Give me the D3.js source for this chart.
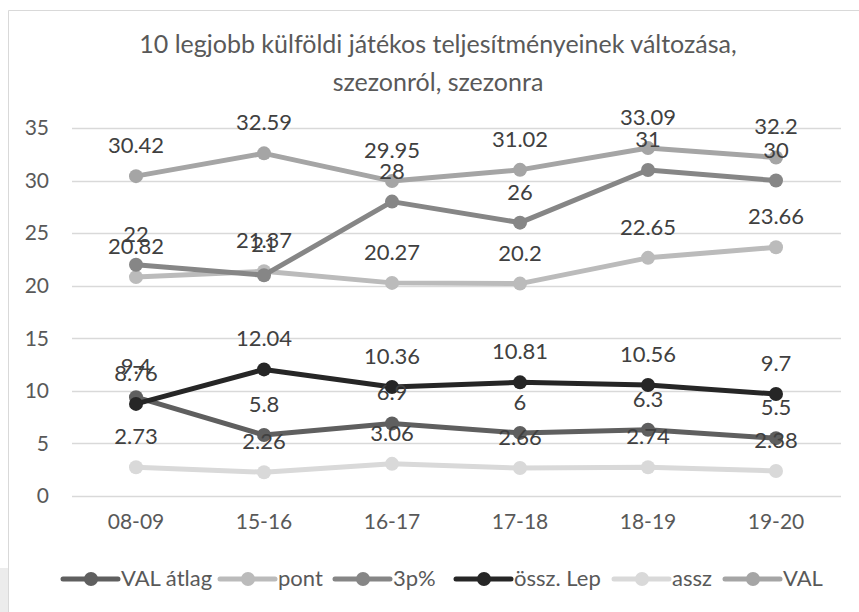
<!DOCTYPE html>
<html>
<head>
<meta charset="utf-8">
<script src="https://cdn.jsdelivr.net/npm/d3@7"></script>
<style>
  body { margin: 0; background: #fff; }
  svg text { font-family: Lato, "Open Sans", sans-serif; }
</style>
</head>
<body>
<svg id="chart" width="859" height="612"></svg>
<script>
// data
var seasons = ["08-09", "15-16", "16-17", "17-18", "18-19", "19-20"];
var seriesNames = ["VAL átlag", "pont", "3p%", "össz. Lep", "assz", "VAL"];
var valAtlag = [9.4, 5.8, 6.9, 6, 6.3, 5.5];
var pont = [20.82, 21.37, 20.27, 20.2, 22.65, 23.66];
var harom = [22, 21, 28, 26, 31, 30];
var osszLep = [8.76, 12.04, 10.36, 10.81, 10.56, 9.7];
var assz = [2.73, 2.26, 3.06, 2.66, 2.74, 2.38];
var val = [30.42, 32.59, 29.95, 31.02, 33.09, 32.2];
var yTicks = [0, 5, 10, 15, 20, 25, 30, 35];
var titleLines = ["10 legjobb külföldi játékos teljesítményeinek változása,", "szezonról, szezonra"];

var colors = ["#5f5f5f", "#bbbbbb", "#868686", "#262626", "#d9d9d9", "#a5a5a5"];
var allValues = [valAtlag, pont, harom, osszLep, assz, val];

var series = seriesNames.map(function(n, i) {
  return { name: n, color: colors[i], values: allValues[i] };
});

var svg = d3.select("#chart");

// frame (chart area is cropped at right/bottom)
svg.append("rect")
  .attr("x", 0).attr("y", 568).attr("width", 8).attr("height", 44)
  .attr("fill", "#ececec");
svg.append("path")
  .attr("d", "M8.5,612 V10.5 H859")
  .attr("fill", "none")
  .attr("stroke", "#d9d9d9")
  .attr("stroke-width", 1);

var xScale = d3.scaleBand().domain(seasons).range([72, 840]);
var yScale = d3.scaleLinear().domain([0, 35]).range([496, 128]);

// gridlines
svg.append("g").selectAll("line")
  .data(yTicks)
  .enter().append("line")
  .attr("x1", 72).attr("x2", 841)
  .attr("y1", function(d) { return Math.round(yScale(d)) + 0.5; })
  .attr("y2", function(d) { return Math.round(yScale(d)) + 0.5; })
  .attr("stroke", "#d9d9d9")
  .attr("stroke-width", 1.3);

var axisY = d3.axisLeft(yScale).tickValues(yTicks).tickSize(0).tickPadding(0);
svg.append("g")
  .attr("transform", "translate(49,0)")
  .call(axisY)
  .call(function(g) { g.select(".domain").remove(); })
  .selectAll("text")
  .attr("font-size", 21)
  .attr("font-family", "Lato")
  .attr("fill", "#595959");

var axisX = d3.axisBottom(xScale).tickSize(0).tickPadding(0);
svg.append("g")
  .attr("transform", "translate(0,514)")
  .call(axisX)
  .call(function(g) { g.select(".domain").remove(); })
  .selectAll("text")
  .attr("font-size", 21)
  .attr("font-family", "Lato")
  .attr("fill", "#595959");

// title
svg.append("g").selectAll("text")
  .data(titleLines)
  .enter().append("text")
  .attr("x", 438)
  .attr("y", function(d, i) { return 53 + i * 38; })
  .attr("text-anchor", "middle")
  .attr("font-size", 25)
  .attr("fill", "#595959")
  .text(function(d) { return d; });

var cx = function(i) { return xScale(seasons[i]) + xScale.bandwidth() / 2; };

var line = d3.line()
  .x(function(d, i) { return cx(i); })
  .y(function(d) { return yScale(d); });

var groups = svg.append("g").selectAll("g")
  .data(series)
  .enter().append("g");

groups.append("path")
  .attr("d", function(s) { return line(s.values); })
  .attr("fill", "none")
  .attr("stroke", function(s) { return s.color; })
  .attr("stroke-width", 5)
  .attr("stroke-linejoin", "round")
  .attr("stroke-linecap", "round");

groups.selectAll("circle")
  .data(function(s) { return s.values.map(function(v) { return { v: v, c: s.color }; }); })
  .enter().append("circle")
  .attr("cx", function(d, i) { return cx(i); })
  .attr("cy", function(d) { return yScale(d.v); })
  .attr("r", 7)
  .attr("fill", function(d) { return d.c; });

// data labels above the points
var labels = svg.append("g");
series.forEach(function(s) {
  labels.selectAll(null)
    .data(s.values)
    .enter().append("text")
    .attr("x", function(d, i) { return cx(i); })
    .attr("y", function(d) { return yScale(d) - 23; })
    .attr("text-anchor", "middle")
    .attr("font-size", 22)
    .attr("fill", "#404040")
    .text(function(d) { return d; });
});

// legend
var legendX = [63, 220, 335, 456, 614, 725];
var legend = svg.append("g").selectAll("g")
  .data(series)
  .enter().append("g")
  .attr("transform", function(d, i) { return "translate(" + legendX[i] + ",579)"; });

legend.append("line")
  .attr("x1", 0).attr("x2", 55)
  .attr("stroke", function(d) { return d.color; })
  .attr("stroke-width", 5)
  .attr("stroke-linecap", "round");
legend.append("circle")
  .attr("cx", 28).attr("r", 7)
  .attr("fill", function(d) { return d.color; });
legend.append("text")
  .attr("x", 58).attr("y", 7)
  .attr("font-size", 22)
  .attr("fill", "#595959")
  .text(function(d) { return d.name; });
</script>
</body>
</html>
